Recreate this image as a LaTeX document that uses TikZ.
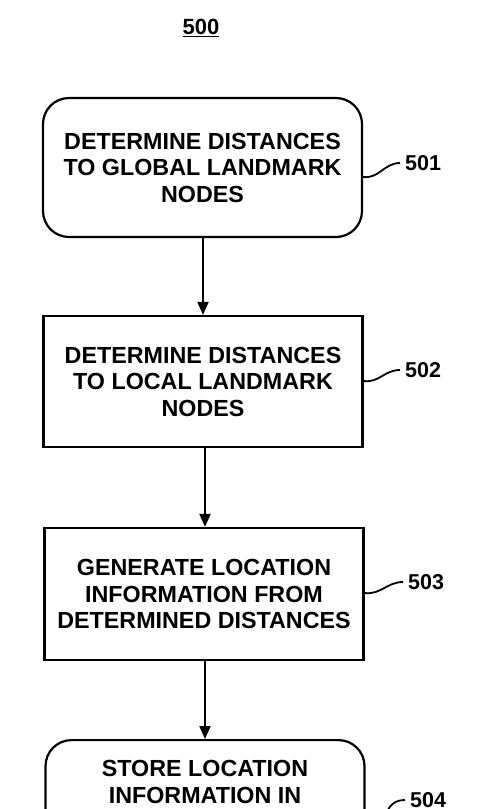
\documentclass[tikz,border=0pt]{standalone}
\usepackage{fontspec}
\setmainfont{Liberation Sans}
\usetikzlibrary{arrows.meta}
\begin{document}
\begin{tikzpicture}[x=1pt,y=-1pt,
  boxtxt/.style={font=\fontsize{23.3}{26.5}\selectfont\bfseries, align=center, inner sep=0pt},
  stepbox/.style={draw, line width=2.2pt, minimum width=319pt, inner sep=0pt, boxtxt},
  roundbox/.style={stepbox, rounded corners=26pt},
  reflabel/.style={font=\fontsize{21.5}{24}\selectfont\bfseries, anchor=west, inner sep=0pt},
  flow/.style={line width=2pt, -{Triangle[length=13pt,width=11pt]}},
  lead/.style={line width=1.8pt}]
\useasboundingbox (0,0) rectangle (500,809);
\clip (0,0) rectangle (500,809);

\node (title) [font=\fontsize{22}{24}\selectfont\bfseries, inner sep=0pt] at (201,28) {\underline{500}};

\node (b1) [roundbox, minimum height=139pt] at (202.5,167.5) {DETERMINE DISTANCES\\TO GLOBAL LANDMARK\\NODES};
\node (b2) [stepbox, minimum height=131pt] at (203,381.5) {DETERMINE DISTANCES\\TO LOCAL LANDMARK\\NODES};
\node (b3) [stepbox, minimum height=132pt] at (204,594) {GENERATE LOCATION\\INFORMATION FROM\\DETERMINED DISTANCES};
\node (b4) [roundbox, minimum height=139pt, anchor=north] at (205,739) {};
\node (t4) [boxtxt] at (205,782) {STORE LOCATION\\INFORMATION IN};

\node (l1) [reflabel] at (405,163) {501};
\node (l2) [reflabel] at (405,370) {502};
\node (l3) [reflabel] at (408,582) {503};
\node (l4) [reflabel] at (410,800) {504};

\draw[flow] (b1.south -| 203,0) -- (b2.north -| 203,0);
\draw[flow] (b2.south -| 205,0) -- (b3.north -| 205,0);
\draw[flow] (b3.south -| 205,0) -- (b4.north -| 205,0);

\draw[lead] (b1.east |- 0,177) .. controls +(16,2) and +(-16,0) .. ([xshift=-5pt]l1.west);
\draw[lead] (b2.east |- 0,381) .. controls +(16,2) and +(-16,0) .. ([xshift=-5pt]l2.west);
\draw[lead] (b3.east |- 0,593) .. controls +(16,2) and +(-16,0) .. ([xshift=-5pt]l3.west);
\coordinate (c4) at (386,815);
\draw[lead] (c4) .. controls +(3,-10) and +(-10,0) .. ([xshift=-5pt]l4.west);
\end{tikzpicture}
\end{document}
